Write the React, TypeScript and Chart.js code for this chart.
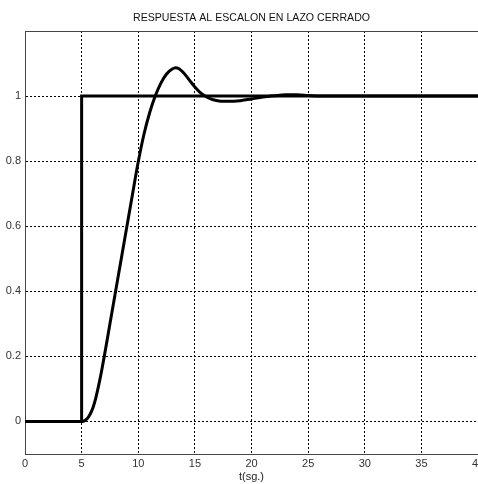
import React, { useEffect, useRef } from "react";
import { Chart, registerables } from "chart.js";

Chart.register(...registerables);

const titleText = "RESPUESTA AL ESCALON EN LAZO CERRADO";
const xTitle = "t(sg.)";
const xTicks = [0, 5, 10, 15, 20, 25, 30, 35, 40];
const yTicks = [0, 0.2, 0.4, 0.6, 0.8, 1];

const stepT = [0, 5, 5, 40];
const stepY = [0, 0, 1, 1];

const respT = [0, 5, 5.25, 5.5, 5.75, 6, 6.25, 6.5, 6.75, 7, 7.5, 8, 8.5, 9, 9.5, 10, 10.5, 11, 11.5, 12, 12.5, 13, 13.3, 13.6, 14, 14.5, 15, 15.5, 16, 16.5, 17, 17.5, 18, 19, 20, 21, 22, 23, 24, 25, 26, 30, 35, 40];
const respY = [0, 0, 0.002, 0.009, 0.022, 0.042, 0.072, 0.11, 0.153, 0.2, 0.3, 0.4, 0.5, 0.6, 0.7, 0.798, 0.882, 0.948, 1.0, 1.04, 1.068, 1.083, 1.087, 1.084, 1.072, 1.05, 1.028, 1.01, 0.998, 0.99, 0.986, 0.984, 0.984, 0.986, 0.991, 0.997, 1.001, 1.004, 1.004, 1.002, 1.0, 1.0, 1.0, 1.0];

const FONT = "'Liberation Sans', Arial, Helvetica, sans-serif";

export default function App() {
  const ref = useRef<HTMLCanvasElement | null>(null);

  useEffect(() => {
    document.body.style.margin = "0";
    document.body.style.overflow = "hidden";
    const canvas = ref.current;
    if (!canvas) return;

    const boxPlugin = {
      id: "boxPlugin",
      beforeDatasetsDraw(chart: any) {
        const { ctx, chartArea } = chart;
        ctx.save();
        ctx.strokeStyle = "#444";
        ctx.lineWidth = 1;
        ctx.setLineDash([]);
        ctx.strokeRect(
          Math.round(chartArea.left) + 0.5,
          Math.round(chartArea.top) + 0.5,
          Math.round(chartArea.right - chartArea.left),
          Math.round(chartArea.bottom - chartArea.top)
        );
        ctx.restore();
      },
    };

    const chart = new Chart(canvas, {
      type: "line",
      data: {
        datasets: [
          {
            data: respT.map((t, i) => ({ x: t, y: respY[i] })),
            borderColor: "#000",
            borderWidth: 3,
            pointRadius: 0,
            fill: false,
            cubicInterpolationMode: "monotone",
          },
          {
            data: stepT.map((t, i) => ({ x: t, y: stepY[i] })),
            borderColor: "#000",
            borderWidth: 3,
            pointRadius: 0,
            fill: false,
            tension: 0,
          },
        ],
      },
      options: {
        responsive: false,
        animation: false,
        devicePixelRatio: 1,
        layout: { padding: { left: 0, right: 22, top: 0, bottom: 0 } },
        plugins: {
          legend: { display: false },
          tooltip: { enabled: false },
          title: {
            display: true,
            text: titleText,
            fullSize: false,
            color: "#111",
            font: { family: FONT, size: 10.6, weight: "normal" },
            padding: { top: 12, bottom: 6.3 },
          },
        },
        scales: {
          x: {
            type: "linear",
            min: 0,
            max: 40,
            afterBuildTicks: (s: any) => {
              s.ticks = xTicks.map((v) => ({ value: v }));
            },
            afterFit: (s: any) => {
              s.height = 30;
            },
            grid: { color: "#000", lineWidth: 1, drawTicks: false },
            border: { display: true, color: "#444", dash: [2, 2] },
            ticks: {
              color: "#333",
              padding: 3,
              maxRotation: 0,
              autoSkip: false,
              font: { family: FONT, size: 11 },
              callback: (v: any) => String(v),
            },
            title: {
              display: true,
              text: xTitle,
              color: "#222",
              font: { family: FONT, size: 11 },
              padding: { top: 0, bottom: 0 },
            },
          },
          y: {
            type: "linear",
            min: -0.1,
            max: 1.2,
            afterBuildTicks: (s: any) => {
              s.ticks = yTicks.map((v) => ({ value: v }));
            },
            afterFit: (s: any) => {
              s.width = 25;
            },
            grid: { color: "#000", lineWidth: 1, drawTicks: false },
            border: { display: true, color: "#444", dash: [2, 2] },
            ticks: {
              color: "#333",
              padding: 4,
              autoSkip: false,
              font: { family: FONT, size: 11 },
              callback: (v: any) => String(Math.round(v * 10) / 10),
            },
          },
        },
      },
      plugins: [boxPlugin],
    } as any);

    return () => chart.destroy();
  }, []);

  return (
    <div style={{ width: 500, height: 484 }}>
      <canvas ref={ref} width={500} height={484} style={{ width: 500, height: 484, display: "block" }} />
    </div>
  );
}
